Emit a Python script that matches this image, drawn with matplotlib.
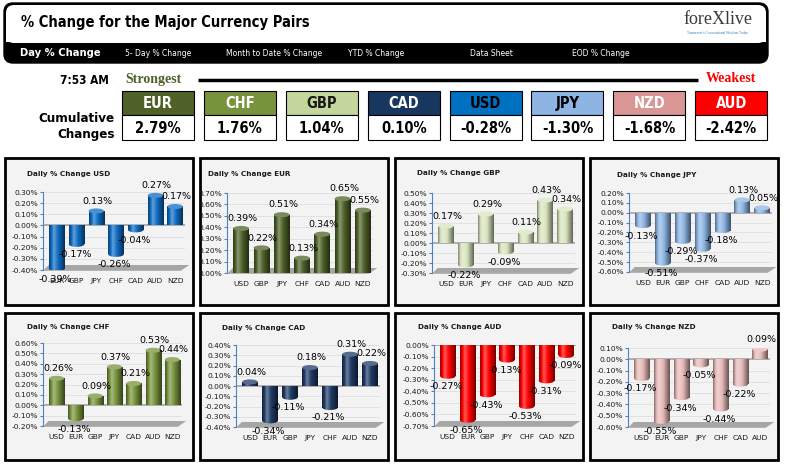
import numpy as np
import matplotlib
matplotlib.use('Agg')
import matplotlib.pyplot as plt
from matplotlib.patches import Rectangle, FancyBboxPatch, Polygon, Ellipse
from matplotlib.colors import to_rgb

# strength ranking and cumulative changes
strength_cur = ['EUR', 'CHF', 'GBP', 'CAD', 'USD', 'JPY', 'NZD', 'AUD']
cumulative = [2.79, 1.76, 1.04, 0.10, -0.28, -1.30, -1.68, -2.42]

# daily % change per base currency
usd_cats = ['EUR', 'GBP', 'JPY', 'CHF', 'CAD', 'AUD', 'NZD']
usd_vals = [-0.39, -0.17, 0.13, -0.26, -0.04, 0.27, 0.17]
eur_cats = ['USD', 'GBP', 'JPY', 'CHF', 'CAD', 'AUD', 'NZD']
eur_vals = [0.39, 0.22, 0.51, 0.13, 0.34, 0.65, 0.55]
gbp_cats = ['USD', 'EUR', 'JPY', 'CHF', 'CAD', 'AUD', 'NZD']
gbp_vals = [0.17, -0.22, 0.29, -0.09, 0.11, 0.43, 0.34]
jpy_cats = ['USD', 'EUR', 'GBP', 'CHF', 'CAD', 'AUD', 'NZD']
jpy_vals = [-0.13, -0.51, -0.29, -0.37, -0.18, 0.13, 0.05]
chf_cats = ['USD', 'EUR', 'GBP', 'JPY', 'CAD', 'AUD', 'NZD']
chf_vals = [0.26, -0.13, 0.09, 0.37, 0.21, 0.53, 0.44]
cad_cats = ['USD', 'EUR', 'GBP', 'JPY', 'CHF', 'AUD', 'NZD']
cad_vals = [0.04, -0.34, -0.11, 0.18, -0.21, 0.31, 0.22]
aud_cats = ['USD', 'EUR', 'GBP', 'JPY', 'CHF', 'CAD', 'NZD']
aud_vals = [-0.27, -0.65, -0.43, -0.13, -0.53, -0.31, -0.09]
nzd_cats = ['USD', 'EUR', 'GBP', 'JPY', 'CHF', 'CAD', 'AUD']
nzd_vals = [-0.17, -0.55, -0.34, -0.05, -0.44, -0.22, 0.09]

W, H = 788, 465
fig = plt.figure(figsize=(W / 100, H / 100), dpi=100)
fig.patch.set_facecolor('white')
bg = fig.add_axes([0, 0, 1, 1])
bg.set_xlim(0, W)
bg.set_ylim(H, 0)
bg.axis('off')

COND = dict(family=['Liberation Sans Narrow', 'DejaVu Sans'], fontstretch='condensed', fontweight='bold')

#header box
bg.add_patch(FancyBboxPatch((4, 3), 764, 60, boxstyle='round,pad=0,rounding_size=9', fc='black', ec='black'))
bg.add_patch(FancyBboxPatch((6, 5), 760, 38, boxstyle='round,pad=0,rounding_size=8', fc='white', ec='none'))
bg.add_patch(Rectangle((6, 30), 760, 12, fc='white', ec='none'))
bg.text(21, 23, '% Change for the Major Currency Pairs', fontsize=10.5, va='center', ha='left', **COND)
bg.text(718, 20, 'foreXlive', fontsize=13, family='Liberation Serif', color='#3a3a3a', ha='center', va='center')
bg.text(718, 33, "Tomorrow's Conventional Wisdom Today", fontsize=2.6, family='Liberation Serif', color='#2a7fc0', ha='center', va='center')

#menu
bg.text(20, 53, 'Day % Change', color='white', fontsize=8, va='center', **COND)
menu = ['5- Day % Change', 'Month to Date % Change', 'YTD % Change', 'Data Sheet', 'EOD % Change']
menu_x = [125, 226, 348, 470, 572]
for m, mx in zip(menu, menu_x):
    bg.text(mx, 53, m, color='white', fontsize=6.1, va='center', family='DejaVu Sans', fontstretch='condensed')

#strength row
bg.text(60, 81, '7:53 AM', fontsize=8.5, va='center', **COND)
bg.text(125, 79, 'Strongest', fontsize=10, va='center', color='#4F6228', family='Liberation Serif', fontweight='bold')
bg.plot([198, 698], [80, 80], color='black', lw=2.5, solid_capstyle='butt')
bg.text(756, 79, 'Weakest', fontsize=10, va='center', ha='right', color='#FF0000', family='Liberation Serif', fontweight='bold')
bg.text(115, 118, 'Cumulative', fontsize=9.5, va='center', ha='right', **COND)
bg.text(115, 134, 'Changes', fontsize=9.5, va='center', ha='right', **COND)

box_fill = ['#4F6228', '#77933C', '#C3D69B', '#17375E', '#0070C0', '#8DB4E2', '#D99694', '#FF0000']
box_txt = ['white', 'white', '#1a1a1a', 'white', 'black', 'black', 'white', 'white']
for i, (cur, val) in enumerate(zip(strength_cur, cumulative)):
    x0 = 122 + i * 81.9
    bg.add_patch(Rectangle((x0, 91), 72, 24, fc=box_fill[i], ec='black', lw=0.8))
    bg.add_patch(Rectangle((x0, 115), 72, 25, fc='white', ec='black', lw=0.8))
    bg.text(x0 + 36, 103, cur, color=box_txt[i], fontsize=10.5, ha='center', va='center', **COND)
    bg.text(x0 + 36, 128, f'{val:.2f}%', fontsize=10.5, ha='center', va='center', **COND)


def shade_colors(color, n=48):
    base = np.array(to_rgb(color))
    t = np.linspace(0, 1, n)
    s = np.interp(t, [0, 0.3, 1], [0.6, 1.35, 0.45])
    out = np.empty((n, 3))
    for k, v in enumerate(s):
        if v <= 1:
            out[k] = base * v
        else:
            out[k] = base + (1 - base) * (v - 1)
    return np.clip(out, 0, 1)[np.newaxis, :, :]


def cylinder(ax, x, v, w, color, cap_h):
    img = shade_colors(color)
    lo, hi = min(0, v), max(0, v)
    body = Rectangle((x - w / 2, lo), w, hi - lo, fc='none', ec='none')
    ax.add_patch(body)
    im = ax.imshow(img, extent=(x - w / 2, x + w / 2, lo, hi), aspect='auto', interpolation='bilinear', zorder=3)
    im.set_clip_path(body)
    if v >= 0:
        top = np.array(to_rgb(color))
        ax.add_patch(Ellipse((x, v), w, cap_h, fc=top + (1 - top) * 0.25, ec='none', zorder=4))
    else:
        # rounded lower end of a hanging bar
        end = Ellipse((x, v), w, cap_h, fc='none', ec='none')
        ax.add_patch(end)
        im2 = ax.imshow(img, extent=(x - w / 2, x + w / 2, v - cap_h, v + cap_h), aspect='auto', interpolation='bilinear', zorder=3)
        im2.set_clip_path(end)


def panel(px0, py0, title, tx, ty, cats, vals, color, ax_l, ax_r, ax_t, ax_b, ymin, ymax):
    bg.add_patch(Rectangle((px0, py0), 188, 147, fc='#F3F3F3', ec='black', lw=2))
    bg.text(tx, ty, title, fontsize=5.2, fontweight='bold', va='center', ha='left', color='#1a1a1a')
    ax = fig.add_axes([ax_l / W, 1 - ax_b / H, (ax_r - ax_l) / W, (ax_b - ax_t) / H])
    ax.set_facecolor('none')
    ticks = np.round(np.arange(ymin, ymax + 0.001, 0.1), 2) + 0.0
    cap_h = (ymax - ymin) / (ax_b - ax_t) * 5
    for k, v in enumerate(vals):
        cylinder(ax, k, v, 0.78, color, cap_h)
        if v >= 0:
            ax.annotate(f'{v:.2f}%', (k, v), xytext=(1, 7), textcoords='offset points',
                        ha='center', va='center', fontsize=6.8, zorder=6)
        else:
            ax.annotate(f'{v:.2f}%', (k, v), xytext=(-1, -7.5), textcoords='offset points',
                        ha='center', va='center', fontsize=6.8, zorder=6)
    ax.set_xlim(-0.7, 6.5)
    ax.set_ylim(ymin, ymax)
    ax.set_yticks(ticks)
    ax.set_yticklabels([f'{abs(t):.2f}%' if abs(t) < 1e-9 else f'{t:.2f}%' for t in ticks])
    ax.set_xticks(range(len(cats)))
    ax.set_xticklabels(cats)
    ax.tick_params(axis='y', labelsize=5.4, length=2, color='#4F81BD', pad=1.5, labelcolor='#1a1a1a')
    ax.tick_params(axis='x', labelsize=5.4, length=0, pad=6, labelcolor='#1a1a1a')
    for s in ['top', 'right', 'bottom']:
        ax.spines[s].set_visible(False)
    ax.spines['left'].set_color('#4F81BD')
    ax.spines['left'].set_linewidth(0.8)
    ax.yaxis.grid(True, color='#DADADA', lw=0.5)
    ax.set_axisbelow(True)
    # 3d floor and zero wall line
    fh = 5 / (ax_b - ax_t)
    ax.add_patch(Polygon([(0, -0.01), (0.97, -0.01), (1.03, fh), (0.04, fh)], closed=True,
                         transform=ax.transAxes, fc='#A6A6A6', ec='none', clip_on=False, zorder=1))
    if ymin < 0:
        ax.axhline(0, color='#A6A6A6', lw=1.2, zorder=2)
    return ax


panel(5, 158, 'Daily % Change USD', 27, 174, usd_cats, usd_vals, '#0E6CC2', 43, 185, 192, 270, -0.4, 0.3)
panel(200, 158, 'Daily % Change EUR', 208, 174, eur_cats, eur_vals, '#4F6228', 227, 373, 193, 273, 0.0, 0.7)
panel(395, 158, 'Daily % Change GBP', 417, 173, gbp_cats, gbp_vals, '#D7E4BD', 432, 575, 193, 273, -0.3, 0.5)
panel(590, 158, 'Daily % Change JPY', 617, 175, jpy_cats, jpy_vals, '#8DB4E2', 629, 772, 193, 272, -0.6, 0.2)
panel(5, 313, 'Daily % Change CHF', 27, 327, chf_cats, chf_vals, '#77933C', 43, 182, 343, 426, -0.2, 0.6)
panel(200, 313, 'Daily % Change CAD', 222, 328, cad_cats, cad_vals, '#1F3B66', 236, 380, 345, 427, -0.4, 0.4)
panel(395, 313, 'Daily % Change AUD', 418, 327, aud_cats, aud_vals, '#FF0000', 434, 576, 345, 426, -0.7, 0.0)
panel(590, 313, 'Daily % Change NZD', 612, 327, nzd_cats, nzd_vals, '#E6B9B8', 628, 770, 348, 427, -0.6, 0.1)

plt.savefig('out.png', dpi=100)
